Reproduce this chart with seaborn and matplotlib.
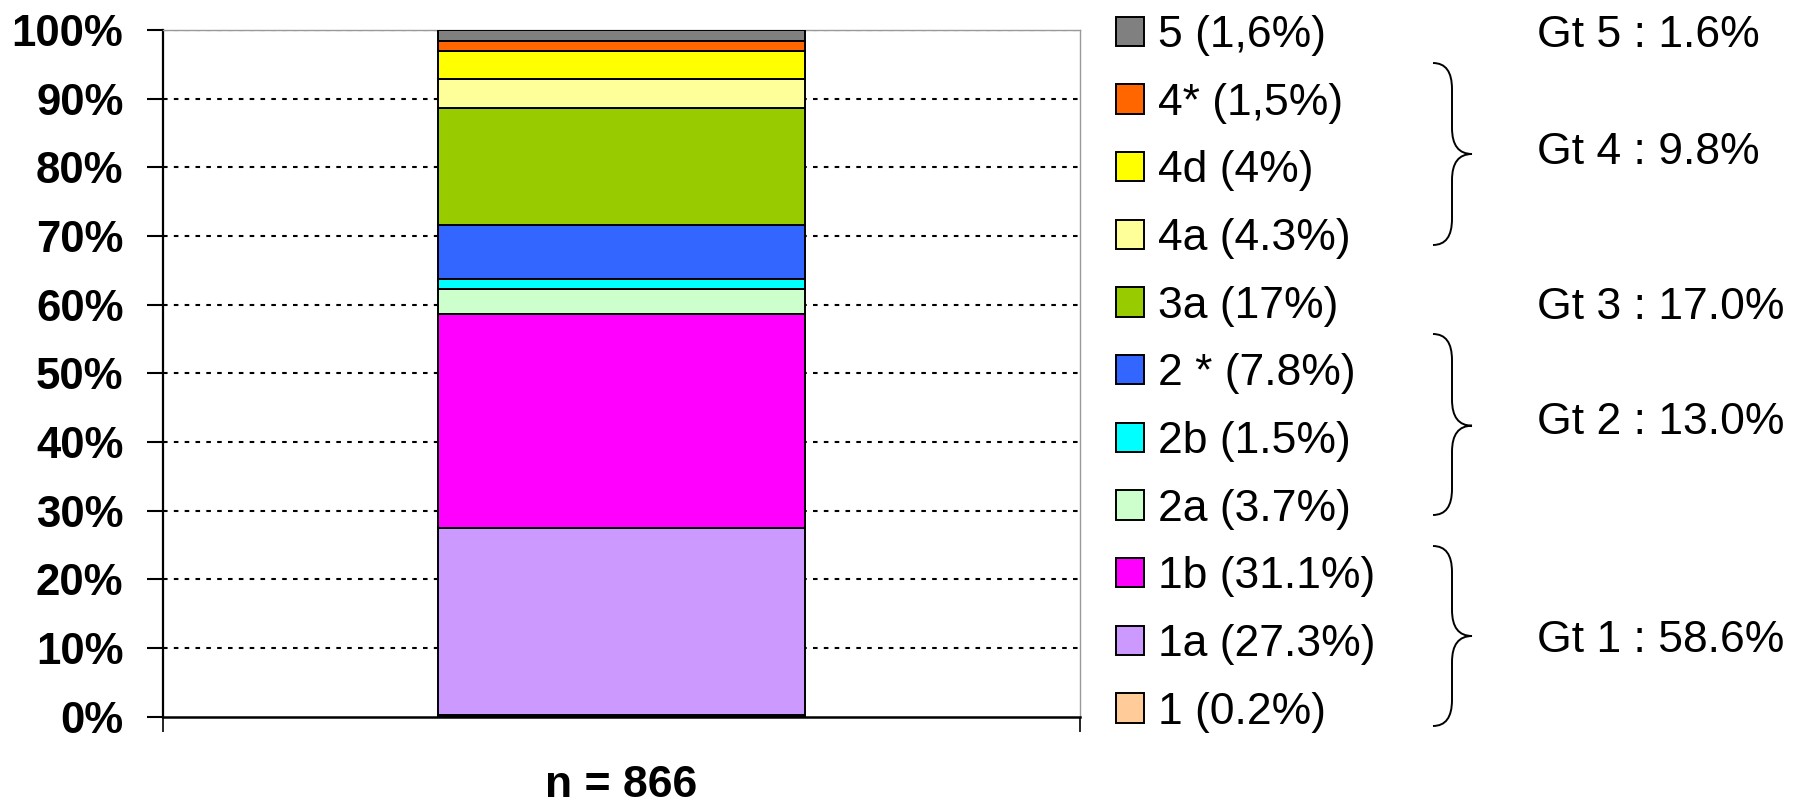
import numpy as np
import pandas as pd
import matplotlib
matplotlib.use("Agg")
import matplotlib.pyplot as plt
from matplotlib.path import Path
from matplotlib.patches import PathPatch
import seaborn as sns

# ---- data (bottom to top) ----
genotypes = ["1", "1a", "1b", "2a", "2b", "2 *", "3a", "4a", "4d", "4*", "5"]
percents = [0.2, 27.3, 31.1, 3.7, 1.5, 7.8, 17.0, 4.3, 4.0, 1.5, 1.6]
legend_labels = ["1 (0.2%)", "1a (27.3%)", "1b (31.1%)", "2a (3.7%)", "2b (1.5%)",
                 "2 * (7.8%)", "3a (17%)", "4a (4.3%)", "4d (4%)", "4* (1,5%)", "5 (1,6%)"]
colors = ["#FFCC99", "#CC99FF", "#FF00FF", "#CCFFCC", "#00FFFF", "#3366FF",
          "#99CC00", "#FFFF99", "#FFFF00", "#FF6600", "#808080"]
category = "n = 866"
group_labels = ["Gt 5 : 1.6%", "Gt 4 : 9.8%", "Gt 3 : 17.0%", "Gt 2 : 13.0%", "Gt 1 : 58.6%"]
yticks = list(range(0, 101, 10))

df = pd.DataFrame({"group": [category] * len(genotypes),
                   "genotype": genotypes, "pct": percents})
df["bottom"] = df["pct"].cumsum() - df["pct"]

sns.set_style("white")
plt.rcParams["font.family"] = ["Liberation Sans", "DejaVu Sans"]
plt.rcParams.update({"text.color": "black", "axes.labelcolor": "black",
                     "xtick.color": "black", "ytick.color": "black"})

W, H = 1801, 808
fig = plt.figure(figsize=(W / 100, H / 100), dpi=100)
ax = fig.add_axes([163 / W, 1 - 716.7 / H, (1080 - 163) / W, (716.7 - 29.9) / H])

handles = []
for i, row in df.iterrows():
    sns.barplot(data=df.iloc[[i]], x="group", y="pct", bottom=row["bottom"],
                color=colors[i], saturation=1, width=0.8, edgecolor="black",
                linewidth=1.4, ax=ax, zorder=3)
    handles.append(ax.patches[-1])

ax.set_xlim(-1, 1)
ax.set_ylim(0, 100)
ax.set_xlabel("")
ax.set_ylabel("")
ax.set_yticks(yticks)
ax.set_yticklabels([f"{v}%" for v in yticks], fontsize=31.5, fontweight="bold",
                   color="black")
ax.tick_params(axis="y", direction="out", length=11.5, width=1.5, color="black",
               labelcolor="black", pad=17, left=True)
ax.set_xticks([0])
ax.set_xticklabels([category], fontsize=32, fontweight="bold", color="black")
ax.tick_params(axis="x", which="major", length=0, pad=35, labelcolor="black")
ax.set_xticks([-1, 1], minor=True)
ax.tick_params(axis="x", which="minor", direction="out", length=11, width=1.2,
               color="black", bottom=True)

ax.grid(False)
for y in yticks[1:]:
    ax.axhline(y, color="black", lw=1.5, ls=(0, (2.2, 3.0)), zorder=1)

ax.spines["left"].set_color("black")
ax.spines["left"].set_linewidth(1.6)
ax.spines["bottom"].set_color("black")
ax.spines["bottom"].set_linewidth(1.8)
ax.spines["bottom"].set_zorder(4)
for s in ("top", "right"):
    ax.spines[s].set_color("#999999")
    ax.spines[s].set_linewidth(1.0)

# legend (top to bottom)
leg = fig.legend(handles[::-1], legend_labels[::-1], loc="upper left",
                 bbox_to_anchor=(1116 / W, 1 - 15 / H), frameon=False,
                 fontsize=32, handlelength=0.64, handleheight=0.64,
                 handletextpad=0.3, labelspacing=0.60, borderpad=0,
                 borderaxespad=0, labelcolor="black")
for h in leg.legend_handles:
    h.set_linewidth(1.4)
    h.set_edgecolor("black")

# group labels
group_y = [35.6, 152.8, 307.8, 422.7, 641.0]
for lab, yy in zip(group_labels, group_y):
    fig.text(1537 / W, 1 - yy / H, lab, fontsize=32, ha="left", va="center",
             color="black")


def brace(x0, xv, xt, top, mid, bot, r=26):
    pts = [(x0, top), (xv, top), (xv, top + r), (xv, mid - r), (xv, mid), (xt, mid),
           (xv, mid), (xv, mid + r), (xv, bot - r), (xv, bot), (x0, bot)]
    codes = [Path.MOVETO, Path.CURVE3, Path.CURVE3, Path.LINETO, Path.CURVE3, Path.CURVE3,
             Path.CURVE3, Path.CURVE3, Path.LINETO, Path.CURVE3, Path.CURVE3]
    pts = [(x / W, 1 - y / H) for x, y in pts]
    fig.patches.append(PathPatch(Path(pts, codes), transform=fig.transFigure,
                                 fill=False, lw=1.4, edgecolor="black"))


brace(1433, 1452, 1472, 63, 154, 245)
brace(1433, 1452, 1472, 334, 425.7, 515)
brace(1433, 1452, 1472, 546, 636, 726)

fig.savefig("out.png", dpi=100, facecolor="white")
